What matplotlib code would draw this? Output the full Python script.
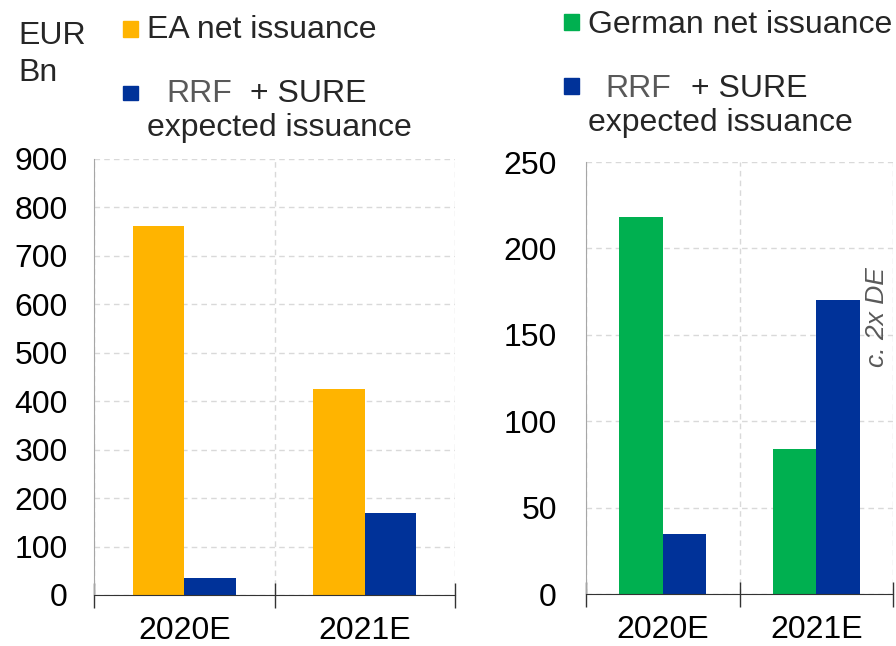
import matplotlib.pyplot as plt
from matplotlib.patches import Rectangle
import numpy as np

plt.rcParams['font.family'] = ['Liberation Sans', 'DejaVu Sans']

# data
years = ["2020E", "2021E"]
ea_net = [762, 425]
eu_rrf_sure = [35, 170]
de_net = [218, 84]
de_rrf_sure = [35, 170]

yellow = "#FFB400"
blue = "#003299"
green = "#00B050"
grey_txt = "#595959"

W, H = 896, 646
fig = plt.figure(figsize=(W / 100, H / 100), dpi=100)


def px(x, y):
    # pixel coords -> figure fraction
    return x / W, 1 - y / H


def setup(ax, ymax, ystep, pad):
    ax.set_xlim(-0.5, 1.5)
    ax.set_ylim(0, ymax)
    ax.set_yticks(np.arange(0, ymax + 1, ystep))
    ax.set_xticks([-0.5, 0.5, 1.5])
    ax.set_xticklabels([])
    ax.set_xticks([0, 1], minor=True)
    ax.set_xticklabels(years, minor=True)
    ax.tick_params(axis='x', which='major', direction='inout', length=18, width=1, color='#333333')
    ax.tick_params(axis='x', which='minor', length=0, pad=15, labelsize=23)
    ax.tick_params(axis='y', length=0, pad=pad, labelsize=23)
    ax.grid(True, which='major', linestyle=(0, (4, 3)), color='#d9d9d9', linewidth=1)
    ax.set_axisbelow(True)
    for s in ['top', 'right']:
        ax.spines[s].set_visible(False)
    ax.spines['left'].set_color('#a6a6a6')
    ax.spines['bottom'].set_color('#333333')


x = np.arange(len(years))
bw = 0.285

# left panel: euro area
ax1 = fig.add_axes([94 / W, 1 - 595 / H, (455 - 94) / W, (595 - 159) / H])
ax1.bar(x - bw / 2, ea_net, bw, color=yellow)
ax1.bar(x + bw / 2, eu_rrf_sure, bw, color=blue)
setup(ax1, 900, 100, 19)

# right panel: Germany
ax2 = fig.add_axes([586 / W, 1 - 594 / H, (893 - 586) / W, (594 - 162) / H])
ax2.bar(x - bw / 2, de_net, bw, color=green)
ax2.bar(x + bw / 2, de_rrf_sure, bw, color=blue)
setup(ax2, 250, 50, 21)
ax2.text(1.396, 160, "c. 2x DE", rotation=90, style='italic', color=grey_txt,
         fontsize=19, ha='center', va='center')

# legend-like texts
fs = 23
fig.text(*px(18, 44), "EUR", fontsize=fs, color='#262626', va='baseline')
fig.text(*px(18, 81), "Bn", fontsize=fs, color='#262626', va='baseline')


def square(x0, y0, x1, y1, c):
    fx0, fy1 = px(x0, y1)
    fig.patches.append(Rectangle((fx0, fy1), (x1 - x0) / W, (y1 - y0) / H,
                                 transform=fig.transFigure, color=c, figure=fig))


square(123, 21, 138, 37, yellow)
fig.text(*px(147, 38), "EA net issuance", fontsize=fs, color='#262626', va='baseline')
square(123, 86, 138, 100, blue)
fig.text(*px(166, 102), "RRF", fontsize=fs, color=grey_txt, va='baseline')
fig.text(*px(250, 102), "+ SURE", fontsize=fs, color='#262626', va='baseline')
fig.text(*px(147, 136), "expected issuance", fontsize=fs, color='#262626', va='baseline')

square(564, 14, 579, 30, green)
fig.text(*px(588, 33), "German net issuance", fontsize=fs, color='#262626', va='baseline')
square(564, 78, 579, 94, blue)
fig.text(*px(605, 97), "RRF", fontsize=fs, color=grey_txt, va='baseline')
fig.text(*px(691, 97), "+ SURE", fontsize=fs, color='#262626', va='baseline')
fig.text(*px(588, 131), "expected issuance", fontsize=fs, color='#262626', va='baseline')

fig.savefig("out.png", dpi=100)
